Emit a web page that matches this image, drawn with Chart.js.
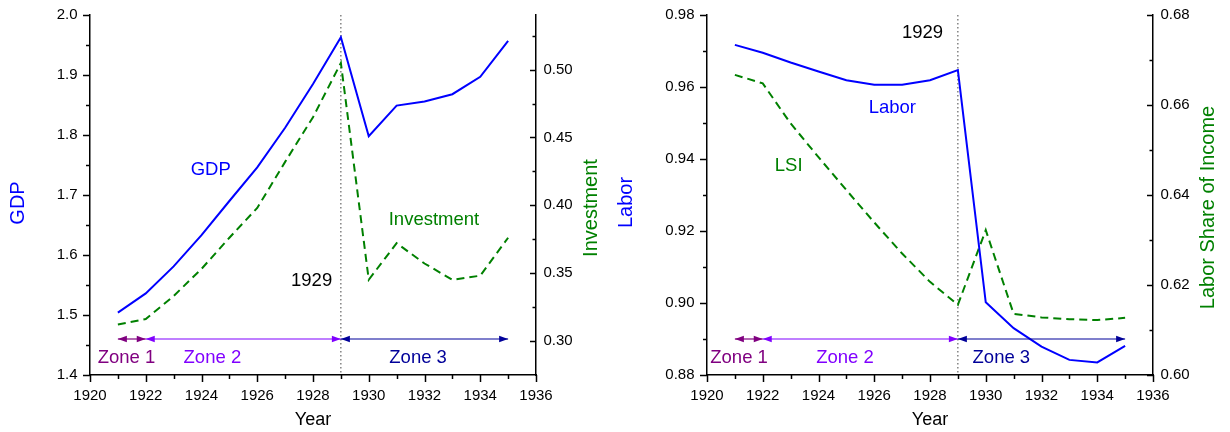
<!DOCTYPE html>
<html>
<head>
<meta charset="utf-8">
<script src="https://cdn.jsdelivr.net/npm/chart.js@4.4.0/dist/chart.umd.min.js"></script>
<style>
  body { margin: 0; background: #fff; }
  #wrap { position: relative; width: 1230px; height: 432px; }
  canvas { position: absolute; top: 0; }
</style>
</head>
<body>
<div id="wrap">
  <canvas id="gdpChart" width="615" height="432" style="left:0"></canvas>
  <canvas id="laborChart" width="615" height="432" style="left:615px"></canvas>
</div>
<script>
  // Data
  const years = [1921, 1922, 1923, 1924, 1925, 1926, 1927, 1928, 1929, 1930, 1931, 1932, 1933, 1934, 1935];
  const gdp = [1.504, 1.536, 1.581, 1.633, 1.690, 1.746, 1.812, 1.885, 1.963, 1.798, 1.849, 1.856, 1.868, 1.897, 1.957];
  const investment = [0.312, 0.316, 0.333, 0.353, 0.376, 0.398, 0.432, 0.465, 0.505, 0.345, 0.372, 0.357, 0.345, 0.348, 0.376];
  const labor = [0.9717, 0.9695, 0.9668, 0.9643, 0.9619, 0.9606, 0.9606, 0.9619, 0.9647, 0.9002, 0.8930, 0.8879, 0.8842, 0.8835, 0.8881];
  const lsi = [0.6667, 0.6648, 0.6559, 0.6484, 0.6411, 0.6339, 0.6270, 0.6207, 0.6156, 0.6322, 0.6136, 0.6128, 0.6124, 0.6122, 0.6127];

  const breakYear = 1929;
  const zoneNames = ['Zone 1', 'Zone 2', 'Zone 3'];
  const zoneStart = [1921, 1922, 1929];
  const zoneEnd = [1922, 1929, 1935];

  // tick labels
  const yearTicks = [1920, 1922, 1924, 1926, 1928, 1930, 1932, 1934, 1936];
  const yearMinor = [1921, 1923, 1925, 1927, 1929, 1931, 1933, 1935];
  const gdpTicks = [1.4, 1.5, 1.6, 1.7, 1.8, 1.9, 2.0];
  const gdpMinor = [1.45, 1.55, 1.65, 1.75, 1.85, 1.95];
  const invTicks = [0.30, 0.35, 0.40, 0.45, 0.50];
  const invMinor = [0.325, 0.375, 0.425, 0.475, 0.525];
  const laborTicks = [0.88, 0.90, 0.92, 0.94, 0.96, 0.98];
  const laborMinor = [0.89, 0.91, 0.93, 0.95, 0.97];
  const lsiTicks = [0.60, 0.62, 0.64, 0.66, 0.68];
  const lsiMinor = [0.61, 0.63, 0.65, 0.67];

  const FONT = '"Liberation Sans", Arial, sans-serif';
  const BLUE = '#0000ff';
  const GREEN = '#008000';
  const zoneColors = ['#800080', '#8000ff', '#000099'];

  function pts(vals) {
    return years.map((y, i) => ({ x: y, y: vals[i] }));
  }

  function fixedTicks(list) {
    return scale => { scale.ticks = list.map(v => ({ value: v })); };
  }

  function arrowHead(ctx, x, y, dir) {
    ctx.beginPath();
    ctx.moveTo(x, y);
    ctx.lineTo(x - dir * 9, y - 3.2);
    ctx.lineTo(x - dir * 9, y + 3.2);
    ctx.closePath();
    ctx.fill();
  }

  function makePanel(id, p) {
    const extras = {
      id: 'extras',
      beforeDatasetsDraw(chart) {
        const ctx = chart.ctx, area = chart.chartArea;
        const xb = chart.scales.x.getPixelForValue(breakYear);
        ctx.save();
        ctx.strokeStyle = '#444';
        ctx.lineWidth = 1;
        ctx.setLineDash([1.5, 2.5]);
        ctx.beginPath();
        ctx.moveTo(xb, area.top);
        ctx.lineTo(xb, area.bottom);
        ctx.stroke();
        ctx.restore();
      },
      afterDatasetsDraw(chart) {
        const ctx = chart.ctx, area = chart.chartArea;
        const xs = chart.scales.x, yl = chart.scales.yL, yr = chart.scales.yR;
        ctx.save();
        ctx.strokeStyle = '#000';
        ctx.lineWidth = 1.5;

        // tick marks
        const vTicks = (scale, list, x0, len) => list.forEach(v => {
          const y = Math.round(scale.getPixelForValue(v)) + 0.5;
          ctx.beginPath(); ctx.moveTo(x0, y); ctx.lineTo(x0 + len, y); ctx.stroke();
        });
        yearTicks.concat(yearMinor).forEach(v => {
          const x = Math.round(xs.getPixelForValue(v)) + 0.5;
          const len = yearTicks.includes(v) ? 7 : 4;
          ctx.beginPath(); ctx.moveTo(x, area.bottom); ctx.lineTo(x, area.bottom + len); ctx.stroke();
        });
        vTicks(yl, p.leftTicks, area.left, -7);
        vTicks(yl, p.leftMinor, area.left, -4);
        vTicks(yr, p.rightTicks, area.right, -6);
        vTicks(yr, p.rightMinor, area.right, -3.5);

        // zone arrows
        const ya = yl.getPixelForValue(p.zoneY);
        zoneNames.forEach((name, i) => {
          const x1 = xs.getPixelForValue(zoneStart[i]);
          const x2 = xs.getPixelForValue(zoneEnd[i]);
          ctx.strokeStyle = zoneColors[i];
          ctx.fillStyle = zoneColors[i];
          ctx.lineWidth = 1.2;
          ctx.beginPath(); ctx.moveTo(x1, ya); ctx.lineTo(x2, ya); ctx.stroke();
          arrowHead(ctx, x1, ya, -1);
          arrowHead(ctx, x2, ya, 1);
          ctx.font = '18.5px ' + FONT;
          ctx.textAlign = 'center';
          ctx.textBaseline = 'middle';
          ctx.fillText(name, xs.getPixelForValue(p.zoneLabelX[i]), yl.getPixelForValue(p.zoneLabelY));
        });

        // in-plot labels
        ctx.font = '18.5px ' + FONT;
        p.notes.forEach(n => {
          ctx.fillStyle = n.color;
          ctx.fillText(n.text, xs.getPixelForValue(n.x), yl.getPixelForValue(n.y));
        });

        // axis titles
        ctx.fillStyle = '#000';
        ctx.font = '18px ' + FONT;
        ctx.fillText('Year', (area.left + area.right) / 2, area.bottom + 45);
        ctx.font = '20px ' + FONT;
        [p.leftTitle, p.rightTitle].forEach(t => {
          ctx.save();
          ctx.translate(t.x, t.y);
          ctx.rotate(-Math.PI / 2);
          ctx.fillStyle = t.color;
          ctx.fillText(t.text, 0, 0);
          ctx.restore();
        });
        ctx.restore();
      }
    };

    const tickFont = { family: FONT, size: 15 };
    const border = { display: true, color: '#000', width: 1.5 };
    const noGrid = { display: false, drawTicks: false };

    return new Chart(document.getElementById(id), {
      type: 'line',
      data: {
        datasets: [{
          label: p.leftName,
          data: pts(p.leftData),
          yAxisID: 'yL',
          borderColor: BLUE,
          borderWidth: 2,
          pointRadius: 0,
          tension: 0
        }, {
          label: p.rightName,
          data: pts(p.rightData),
          yAxisID: 'yR',
          borderColor: GREEN,
          borderWidth: 2,
          borderDash: [8, 5],
          pointRadius: 0,
          tension: 0
        }]
      },
      options: {
        responsive: false,
        animation: false,
        devicePixelRatio: 1,
        events: [],
        layout: { padding: { top: 15, left: 0, right: 0, bottom: 0 } },
        plugins: { legend: { display: false }, tooltip: { enabled: false } },
        scales: {
          x: {
            type: 'linear',
            min: 1920, max: 1936,
            afterBuildTicks: fixedTicks(yearTicks),
            afterFit: s => { s.height = 57; s.paddingLeft = 0; s.paddingRight = 0; },
            grid: noGrid,
            border: border,
            ticks: { color: '#000', font: tickFont, padding: 12, autoSkip: false, maxRotation: 0,
                     callback: v => String(v) }
          },
          yL: {
            type: 'linear',
            position: 'left',
            min: p.leftMin, max: p.leftMax,
            afterBuildTicks: fixedTicks(p.leftTicks),
            afterFit: s => { s.width = p.leftWidth; s.paddingTop = 0; s.paddingBottom = 0; },
            grid: noGrid,
            border: border,
            ticks: { color: '#000', font: tickFont, padding: 12.5,
                     callback: v => v.toFixed(p.leftDigits) }
          },
          yR: {
            type: 'linear',
            position: 'right',
            min: p.rightMin, max: p.rightMax,
            afterBuildTicks: fixedTicks(p.rightTicks),
            afterFit: s => { s.width = p.rightWidth; s.paddingTop = 0; s.paddingBottom = 0; },
            grid: noGrid,
            border: border,
            ticks: { color: '#000', font: tickFont, padding: 7.5,
                     callback: v => v.toFixed(2) }
          }
        }
      },
      plugins: [extras]
    });
  }

  makePanel('gdpChart', {
    leftName: 'GDP', leftData: gdp,
    rightName: 'Investment', rightData: investment,
    leftMin: 1.4, leftMax: 2.0, leftTicks: gdpTicks, leftMinor: gdpMinor, leftDigits: 1,
    rightMin: 0.2747, rightMax: 0.5404, rightTicks: invTicks, rightMinor: invMinor,
    leftWidth: 90, rightWidth: 79,
    zoneY: 1.46, zoneLabelY: 1.429, zoneLabelX: [1921.31, 1924.39, 1931.77],
    notes: [
      { text: 'GDP', x: 1924.33, y: 1.742, color: BLUE },
      { text: 'Investment', x: 1932.34, y: 1.659, color: GREEN },
      { text: '1929', x: 1927.95, y: 1.556, color: '#000' }
    ],
    leftTitle: { text: 'GDP', x: 18.3, y: 203, color: BLUE },
    rightTitle: { text: 'Investment', x: 591.7, y: 208, color: GREEN }
  });

  makePanel('laborChart', {
    leftName: 'Labor', leftData: labor,
    rightName: 'LSI', rightData: lsi,
    leftMin: 0.88, leftMax: 0.98, leftTicks: laborTicks, leftMinor: laborMinor, leftDigits: 2,
    rightMin: 0.60, rightMax: 0.68, rightTicks: lsiTicks, rightMinor: lsiMinor,
    leftWidth: 92, rightWidth: 77,
    zoneY: 0.89, zoneLabelY: 0.8847, zoneLabelX: [1921.15, 1924.95, 1930.56],
    notes: [
      { text: '1929', x: 1927.73, y: 0.975, color: '#000' },
      { text: 'Labor', x: 1926.65, y: 0.9542, color: BLUE },
      { text: 'LSI', x: 1922.93, y: 0.9382, color: GREEN }
    ],
    leftTitle: { text: 'Labor', x: 11.7, y: 202.5, color: BLUE },
    rightTitle: { text: 'Labor Share of Income', x: 593, y: 207.5, color: GREEN }
  });
</script>
</body>
</html>
